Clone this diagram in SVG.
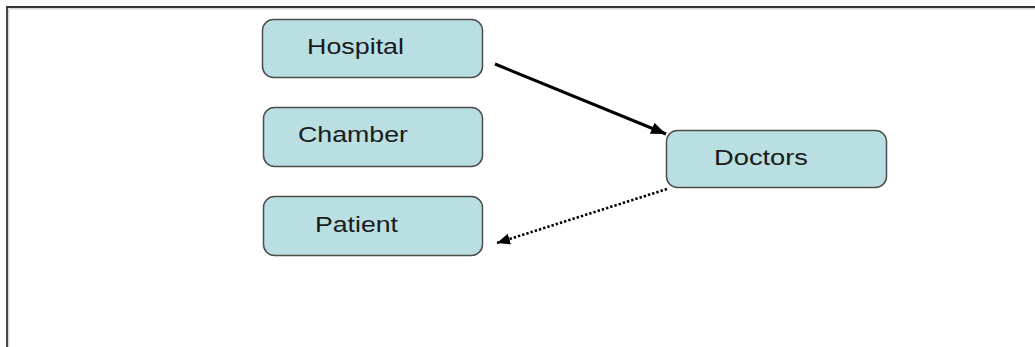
<svg xmlns="http://www.w3.org/2000/svg" width="1035" height="347" viewBox="0 0 1035 347">
  <style>
    .box { fill: #b9dfe3; stroke: #4d4d4d; stroke-width: 1.5; }
    .lbl { font-family: "Liberation Sans", Arial, sans-serif; font-size: 21.5px; fill: #1a1a1a; }
    .frame { fill: none; stroke: #333; stroke-width: 1.8; }
    .frame2 { fill: none; stroke: #c8c8c8; stroke-width: 1; }
  </style>
  <defs>
    <marker id="ah" markerUnits="userSpaceOnUse" markerWidth="16" markerHeight="12" refX="15" refY="6" orient="auto">
      <path d="M0,0 L15,6 L0,12 Z" fill="#000"/>
    </marker>
    <marker id="ah2" markerUnits="userSpaceOnUse" markerWidth="14" markerHeight="12" refX="13" refY="6" orient="auto">
      <path d="M0,0.5 L13,6 L0,11.5 Z" fill="#000"/>
    </marker>
  </defs>
  <rect width="1035" height="347" fill="#fff"/>
  <path class="frame2" d="M8.8,347 V8.8 H1035"/>
  <path class="frame" d="M7,347 V7 H1035"/>

  <g id="hospital">
    <rect class="box" x="262.5" y="19.5" width="220" height="58" rx="11"/>
    <text class="lbl" x="307" y="54" textLength="97" lengthAdjust="spacingAndGlyphs">Hospital</text>
  </g>
  <g id="chamber">
    <rect class="box" x="263.5" y="107.5" width="219" height="59" rx="11"/>
    <text class="lbl" x="298" y="142" textLength="110" lengthAdjust="spacingAndGlyphs">Chamber</text>
  </g>
  <g id="patient">
    <rect class="box" x="263.5" y="196.5" width="219" height="59" rx="11"/>
    <text class="lbl" x="315" y="232" textLength="83" lengthAdjust="spacingAndGlyphs">Patient</text>
  </g>
  <g id="doctors">
    <rect class="box" x="666.5" y="130.5" width="220" height="57" rx="11"/>
    <text class="lbl" x="714" y="165" textLength="94" lengthAdjust="spacingAndGlyphs">Doctors</text>
  </g>

  <g id="connectors">
    <line x1="495" y1="64" x2="666" y2="134" stroke="#000" stroke-width="3" marker-end="url(#ah)"/>
    <line x1="667" y1="189" x2="497" y2="243" stroke="#000" stroke-width="2.6" stroke-dasharray="2.4,2" marker-end="url(#ah2)"/>
  </g>
</svg>
